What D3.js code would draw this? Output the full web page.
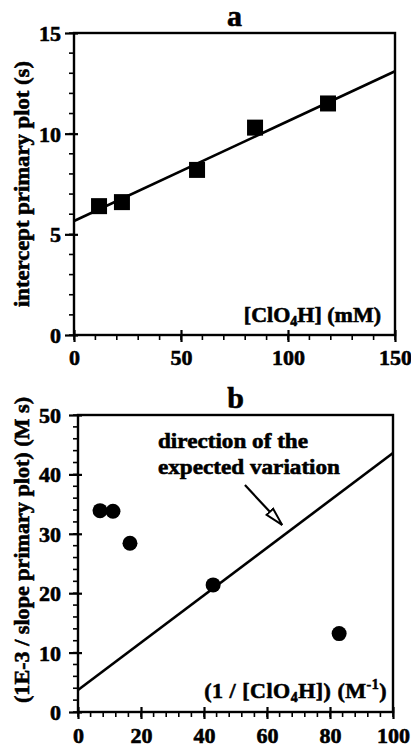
<!DOCTYPE html>
<html>
<head>
<meta charset="utf-8">
<script src="https://cdn.jsdelivr.net/npm/d3@7/dist/d3.min.js"></script>
<style>
  html, body { margin: 0; padding: 0; background: #fff; }
  svg { display: block; }
  text { font-family: "Liberation Serif", "Times New Roman", serif; font-weight: bold; fill: #000;
         stroke: #000; stroke-width: 0.6px; }
</style>
</head>
<body>
<svg id="chart" width="411" height="748"></svg>
<script>
// Panel a: intercept of the primary plot vs perchloric acid concentration
const acidConc = [11.7, 22.4, 57.5, 84.6, 118.7];          // [ClO4H] (mM)
const interceptVals = [6.4, 6.6, 8.2, 10.3, 11.5];         // s
const fitA = { x: [0, 150], y: [5.66, 13.1] };
const ticksAX = [0, 50, 100, 150];
const ticksAY = [0, 5, 10, 15];

// Panel b: 1E-3 / slope of the primary plot vs reciprocal acid concentration
const invAcid = [7.0, 11.1, 16.5, 42.9, 82.9];             // M^-1
const invSlopeVals = [33.9, 33.8, 28.4, 21.4, 13.2];       // M s
const fitB = { x: [0, 100], y: [3.7, 43.6] };
const ticksBX = [0, 20, 40, 60, 80, 100];
const ticksBY = [0, 10, 20, 30, 40, 50];
const arrowB = { x: [53, 64.8], y: [38.2, 31.5] };

const svg = d3.select("#chart");

svg.append("defs").append("marker")
  .attr("id", "openHead")
  .attr("viewBox", "0 0 20 12")
  .attr("refX", 19).attr("refY", 6)
  .attr("markerUnits", "userSpaceOnUse")
  .attr("markerWidth", 20).attr("markerHeight", 12)
  .attr("orient", "auto")
  .append("path")
  .attr("d", "M1,1.5 L19,6 L1,10.5 Z")
  .attr("fill", "#fff").attr("stroke", "#000").attr("stroke-width", 2);

function drawPanel(cfg) {
  const g = svg.append("g");
  const x = d3.scaleLinear().domain(cfg.xDomain).range(cfg.xRange);
  const y = d3.scaleLinear().domain(cfg.yDomain).range(cfg.yRange);
  const [x0, x1] = cfg.xRange, [y0, y1] = cfg.yRange;

  // minor ticks (outward only)
  const xMinor = d3.range(cfg.xDomain[0], cfg.xDomain[1] + 1e-9, cfg.xMinorStep);
  const yMinor = d3.range(cfg.yDomain[0], cfg.yDomain[1] + 1e-9, cfg.yMinorStep);
  g.append("g").selectAll("line").data(xMinor).join("line")
    .attr("x1", d => x(d)).attr("x2", d => x(d))
    .attr("y1", y0).attr("y2", y0 + 5)
    .attr("stroke", "#000").attr("stroke-width", 1.6);
  g.append("g").selectAll("line").data(yMinor).join("line")
    .attr("y1", d => y(d)).attr("y2", d => y(d))
    .attr("x1", x0).attr("x2", x0 - 5)
    .attr("stroke", "#000").attr("stroke-width", 1.6);

  // bottom axis
  const ax = g.append("g").attr("transform", `translate(0,${y0})`)
    .call(d3.axisBottom(x).tickValues(cfg.xTicks).tickSize(6).tickPadding(0).tickFormat(d3.format("d")));
  ax.select(".domain").remove();
  ax.selectAll(".tick line").attr("y1", -5).attr("y2", 7).attr("stroke-width", 2.2);
  ax.selectAll(".tick text").attr("y", cfg.xLabelDy).attr("dy", 0)
    .attr("font-size", 22).style("font-family", "Liberation Serif").style("font-weight", "bold");

  // left axis
  const ay = g.append("g").attr("transform", `translate(${x0},0)`)
    .call(d3.axisLeft(y).tickValues(cfg.yTicks).tickSize(6).tickFormat(d3.format("d")));
  ay.select(".domain").remove();
  ay.selectAll(".tick line").attr("x1", 4).attr("x2", -9).attr("stroke-width", 2.2);
  ay.selectAll(".tick text").attr("x", cfg.yLabelX - x0).attr("dy", "0.34em")
    .attr("font-size", 22).style("font-family", "Liberation Serif").style("font-weight", "bold");

  // frame
  g.append("rect")
    .attr("x", x0).attr("y", y1).attr("width", x1 - x0).attr("height", y0 - y1)
    .attr("fill", "none").attr("stroke", "#000").attr("stroke-width", 2.4);

  // fitted line
  g.append("line")
    .attr("x1", x(cfg.fit.x[0])).attr("y1", y(cfg.fit.y[0]))
    .attr("x2", x(cfg.fit.x[1])).attr("y2", y(cfg.fit.y[1]))
    .attr("stroke", "#000").attr("stroke-width", 2.6);

  // points
  const pts = d3.zip(cfg.px, cfg.py);
  if (cfg.symbol === "square") {
    g.append("g").selectAll("rect").data(pts).join("rect")
      .attr("x", d => x(d[0]) - 8).attr("y", d => y(d[1]) - 8)
      .attr("width", 16).attr("height", 16).attr("fill", "#000");
  } else {
    g.append("g").selectAll("circle").data(pts).join("circle")
      .attr("cx", d => x(d[0])).attr("cy", d => y(d[1])).attr("r", 7.5)
      .attr("fill", "#000");
  }

  // panel title
  g.append("text").attr("x", (x0 + x1) / 2).attr("y", y1 - 7)
    .attr("text-anchor", "middle").attr("font-size", 30).text(cfg.title);

  // y-axis title
  g.append("text")
    .attr("transform", `translate(${cfg.yTitleX},${cfg.yTitleY}) rotate(-90)`)
    .attr("text-anchor", "middle").attr("font-size", 22)
    .attr("textLength", cfg.yTitleLen).attr("lengthAdjust", "spacingAndGlyphs")
    .text(cfg.yTitle);

  return { g, x, y };
}

// panel a
const pa = drawPanel({
  xDomain: [0, 150], xRange: [74, 395], yDomain: [0, 15], yRange: [335, 33],
  xTicks: ticksAX, yTicks: ticksAY, xMinorStep: 10, yMinorStep: 1,
  xLabelDy: 30, yLabelX: 61,
  fit: fitA, px: acidConc, py: interceptVals, symbol: "square",
  title: "a", yTitle: "intercept primary plot (s)", yTitleX: 29, yTitleY: 184, yTitleLen: 246
});
const labA = pa.g.append("text").attr("x", 381).attr("y", 322).attr("text-anchor", "end").attr("font-size", 22);
labA.append("tspan").text("[ClO");
labA.append("tspan").attr("font-size", 14).attr("dy", 4).text("4");
labA.append("tspan").attr("dy", -4).text("H] (mM)");

// panel b
const pb = drawPanel({
  xDomain: [0, 100], xRange: [78, 393], yDomain: [0, 50], yRange: [712, 415],
  xTicks: ticksBX, yTicks: ticksBY, xMinorStep: 4, yMinorStep: 2,
  xLabelDy: 31, yLabelX: 61,
  fit: fitB, px: invAcid, py: invSlopeVals, symbol: "circle",
  title: "b", yTitle: "(1E-3 / slope primary plot) (M s)", yTitleX: 29, yTitleY: 550, yTitleLen: 306
});
const labB = pb.g.append("text").attr("x", 387).attr("y", 698).attr("text-anchor", "end")
  .attr("font-size", 22).attr("letter-spacing", 0.5);
labB.append("tspan").text("(1 / [ClO");
labB.append("tspan").attr("font-size", 14).attr("dy", 4).text("4");
labB.append("tspan").attr("dy", -4).text("H]) (M");
labB.append("tspan").attr("font-size", 14).attr("dy", -9).text("-1");
labB.append("tspan").attr("dy", 9).text(")");

// annotation with open arrow
const note = pb.g.append("g").attr("font-size", 22);
note.append("text").attr("x", 158).attr("y", 448)
  .attr("textLength", 150).attr("lengthAdjust", "spacingAndGlyphs").text("direction of the");
note.append("text").attr("x", 158).attr("y", 474)
  .attr("textLength", 182).attr("lengthAdjust", "spacingAndGlyphs").text("expected variation");
pb.g.append("line")
  .attr("x1", pb.x(arrowB.x[0])).attr("y1", pb.y(arrowB.y[0]))
  .attr("x2", pb.x(arrowB.x[1])).attr("y2", pb.y(arrowB.y[1]))
  .attr("stroke", "#000").attr("stroke-width", 2.2)
  .attr("marker-end", "url(#openHead)");
</script>
</body>
</html>
